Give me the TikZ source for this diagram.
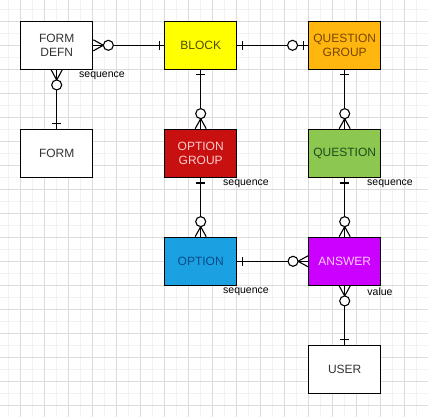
\documentclass[tikz,border=0pt]{standalone}
\usepackage{fontspec}
\setmainfont{Liberation Sans}
\usetikzlibrary{decorations.markings}
\definecolor{gridmaj}{HTML}{DCDCDC}
\definecolor{gridmin}{HTML}{F2F2F2}
\definecolor{txtgray}{HTML}{333333}
\definecolor{blockfill}{HTML}{FFFF00}
\definecolor{blocktxt}{HTML}{4D4D00}
\definecolor{qgfill}{HTML}{FFB60F}
\definecolor{qgtxt}{HTML}{7A4500}
\definecolor{ogfill}{HTML}{C81010}
\definecolor{ogtxt}{HTML}{FFCCCC}
\definecolor{qfill}{HTML}{8CC850}
\definecolor{qtxt}{HTML}{1E4A1E}
\definecolor{optfill}{HTML}{1BA1E2}
\definecolor{opttxt}{HTML}{0A4A8A}
\definecolor{ansfill}{HTML}{CC00FF}
\definecolor{anstxt}{HTML}{FFCCFF}
\begin{document}
\begin{tikzpicture}[x=1pt,y=-1pt,
  ent/.style={draw=black, line width=1.3pt, minimum width=72pt, minimum height=48pt,
    inner sep=0pt, align=center, font=\fontsize{12}{13.5}\selectfont},
  lbl/.style={font=\fontsize{10.5}{12}\selectfont, inner sep=0pt, text=black},
  rel/.style={line width=1.1pt, draw=black},
  oneS/.style={postaction={decorate,decoration={markings,
    mark=at position 5pt with {\draw[line width=1.1pt] (0,-4.5pt) -- (0,4.5pt);}}}},
  oneE/.style={postaction={decorate,decoration={markings,
    mark=at position 1 with {\draw[line width=1.1pt] (-5pt,-4.5pt) -- (-5pt,4.5pt);}}}},
  zmanyS/.style={postaction={decorate,decoration={markings,
    mark=at position 0 with {\draw[line width=1.1pt] (0,5.5pt) -- (10pt,0) -- (0,-5.5pt);
      \draw[line width=1.1pt,fill=white] (15pt,0) circle[radius=5pt];}}}},
  zmanyE/.style={postaction={decorate,decoration={markings,
    mark=at position 1 with {\draw[line width=1.1pt] (0,5.5pt) -- (-10pt,0) -- (0,-5.5pt);
      \draw[line width=1.1pt,fill=white] (-15pt,0) circle[radius=5pt];}}}},
  zoneE/.style={postaction={decorate,decoration={markings,
    mark=at position 1 with {\draw[line width=1.1pt] (-5pt,-4.5pt) -- (-5pt,4.5pt);
      \draw[line width=1.1pt,fill=white] (-15.5pt,0) circle[radius=5pt];}}}}
]
\useasboundingbox (0,0) rectangle (428,417);
\fill[white] (0,0) rectangle (428,417);
% grid
\foreach \i in {0,...,36} {
  \draw[gridmin, line width=0.5pt] ({8.7+12*\i},0) -- ({8.7+12*\i},417);
  \draw[gridmin, line width=0.5pt] (0,{9.3+12*\i}) -- (428,{9.3+12*\i});
}
\foreach \i in {0,...,18} {
  \draw[gridmaj, line width=0.6pt] ({-3.3+24*\i},0) -- ({-3.3+24*\i},417);
  \draw[gridmaj, line width=0.6pt] (0,{-2.7+24*\i}) -- (428,{-2.7+24*\i});
}
% entities
\node[ent, fill=white, text=txtgray] (fd) at (56.7,45.3) {FORM\\DEFN};
\node[ent, fill=white, text=txtgray] (form) at (56.7,153.3) {FORM};
\node[ent, fill=blockfill, text=blocktxt] (block) at (200.7,45.3) {BLOCK};
\node[ent, fill=qgfill, text=qgtxt] (qg) at (344.7,45.3) {QUESTION\\GROUP};
\node[ent, fill=ogfill, text=ogtxt] (og) at (200.7,153.3) {OPTION\\GROUP};
\node[ent, fill=qfill, text=qtxt] (q) at (344.7,153.3) {QUESTION};
\node[ent, fill=optfill, text=opttxt] (opt) at (200.7,261.3) {OPTION};
\node[ent, fill=ansfill, text=anstxt] (ans) at (344.7,261.3) {ANSWER};
\node[ent, fill=white, text=txtgray] (user) at (344.7,369.3) {USER};
% relationships
\draw[rel, zmanyS, oneE] (fd) -- (block);
\draw[rel, zmanyS, oneE] (fd) -- (form);
\draw[rel, oneS, zoneE] (block) -- (qg);
\draw[rel, oneS, zmanyE] (block) -- (og);
\draw[rel, oneS, zmanyE] (qg) -- (q);
\draw[rel, oneS, zmanyE] (og) -- (opt);
\draw[rel, oneS, zmanyE] (q) -- (ans);
\draw[rel, oneS, zmanyE] (opt) -- (ans);
\draw[rel, zmanyS, oneE] (ans) -- (user);
% labels
\node[lbl] (l1) at (102,75.5) {sequence};
\node[lbl] (l2) at (246,183.5) {sequence};
\node[lbl] (l3) at (390,183.5) {sequence};
\node[lbl] (l4) at (246,291.5) {sequence};
\node[lbl] (l5) at (380,291.5) {value};
\end{tikzpicture}
\end{document}
